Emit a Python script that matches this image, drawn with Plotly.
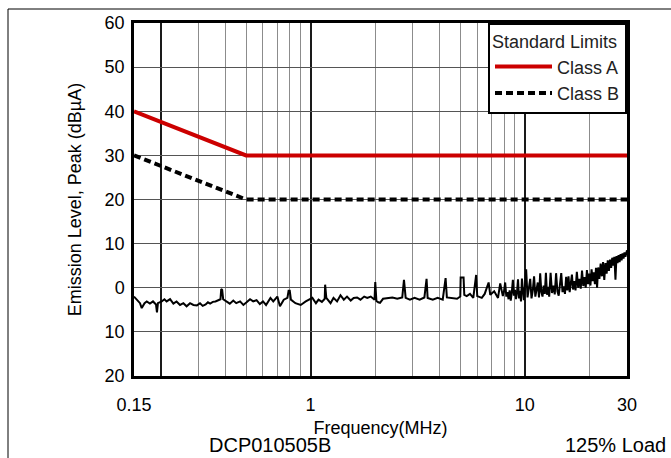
import plotly.graph_objects as go

# ---------------- data ----------------
limit_freq = [0.15, 0.5, 30]
class_a = [40, 30, 30]
class_b = [30, 20, 20]

noise_freq = [
    0.150, 0.154, 0.160, 0.163, 0.168, 0.172, 0.178, 0.184, 0.190, 0.192, 0.194,
    0.202, 0.208, 0.213, 0.221, 0.229, 0.237, 0.246, 0.255, 0.264, 0.274, 0.284,
    0.295, 0.305, 0.314, 0.324, 0.332, 0.340, 0.350, 0.360, 0.370, 0.380, 0.383,
    0.387, 0.391, 0.405, 0.420, 0.436, 0.450, 0.469, 0.486, 0.503, 0.522, 0.540,
    0.560, 0.580, 0.600, 0.620, 0.650, 0.670, 0.700, 0.720, 0.750, 0.780, 0.790,
    0.800, 0.810, 0.850, 0.900, 0.950, 0.980, 1.02, 1.06, 1.09, 1.13, 1.165,
    1.17, 1.185, 1.24, 1.28, 1.33, 1.38, 1.43, 1.48, 1.54, 1.59, 1.65, 1.71,
    1.78, 1.84, 1.91, 1.99, 2.005, 2.03, 2.07, 2.11, 2.18, 2.29, 2.41, 2.54,
    2.68, 2.73, 2.78, 2.91, 3.06, 3.23, 3.40, 3.48, 3.52, 3.72, 3.92, 4.14,
    4.27, 4.33, 4.58, 4.83, 5.00, 5.02, 5.18, 5.22, 5.36, 5.55, 5.75, 5.93,
    6.00, 6.30, 6.50, 6.78, 6.90, 7.20, 7.50, 7.68, 7.90,
    8.0, 8.1, 8.2, 8.3, 8.4, 8.5, 8.6, 8.7, 8.8, 8.9, 9.0, 9.1, 9.2, 9.3,
    9.4, 9.5, 9.6, 9.7, 9.8, 9.9, 10.0, 10.15, 10.3, 10.45, 10.6, 10.75,
    10.9, 11.05, 11.2, 11.35, 11.5, 11.65, 11.8, 11.95, 12.1, 12.25, 12.4,
    12.55, 12.7, 12.85, 13.0, 13.2, 13.4, 13.6, 13.8, 14.0, 14.2, 14.4,
    14.6, 14.8, 15.0, 15.2, 15.4, 15.6, 15.8, 16.0, 16.2, 16.4, 16.6, 16.8,
    17.0, 17.25, 17.5, 17.75, 18.0, 18.25, 18.5, 18.75, 19.0, 19.25, 19.5,
    19.75, 20.0, 20.25, 20.5, 20.75, 21.0, 21.25, 21.5, 21.75, 22.0, 22.3,
    22.6, 22.9, 23.2, 23.5, 23.8, 24.1, 24.4, 24.7, 25.0, 25.3, 25.6, 25.9,
    26.2, 26.5, 26.8, 27.1, 27.4, 27.7, 28.0, 28.3, 28.6, 28.9, 29.2, 29.5,
    29.8, 30.0,
]
noise_level = [
    -2.0, -2.7, -3.5, -4.6, -3.5, -3.1, -3.6, -3.1, -3.8, -5.6, -3.5,
    -3.1, -2.6, -3.1, -2.6, -3.6, -3.1, -3.9, -3.5, -4.2, -3.5, -3.9,
    -4.0, -3.5, -4.1, -3.8, -3.3, -3.6, -3.2, -3.1, -2.8, -2.6, -0.3,
    -0.5, -2.6, -3.1, -3.6, -2.9, -3.5, -3.1, -3.9, -3.3, -2.6, -3.1,
    -2.8, -3.7, -3.1, -3.9, -2.3, -3.1, -2.0, -4.2, -2.7, -2.3, -0.7,
    -0.7, -2.7, -3.5, -3.9, -3.1, -2.7, -2.3, -3.5, -2.7, -3.2, -2.5,
    0.7, -2.3, -3.5, -2.3, -3.1, -1.7, -2.7, -2.0, -2.9, -2.3, -2.2, -2.7,
    -2.0, -2.3, -2.0, -2.7, 1.3, -3.0, -3.3, -3.4, -2.5, -2.3, -2.2, -2.5,
    -2.2, 1.8, -2.3, -2.7, -2.3, -2.7, -2.2, 2.0, -2.3, -2.7, -2.3, -2.7,
    2.2, -2.2, -2.3, -2.5, -2.0, 2.3, 2.3, -1.6, -1.9, -1.4, -2.3, 2.9,
    -1.9, -2.3, -1.4, 1.2, -1.6, -0.8, -2.3, 1.0, -1.9,
    -0.8, 1.2, -2.0, -1.0, -2.6, -0.6, -2.9, -1.0, 1.8, -1.8, -0.5, -2.6, -1.0, 1.9,
    -2.4, -0.7, -3.1, 2.1, -1.6, -2.8, -0.3, 4.2, -2.2, -0.5, 2.0, -2.4,
    -0.6, 2.6, -2.0, -0.4, 1.2, -2.2, 3.3, -1.0, -2.0, 0.5, -1.4,
    3.4, -1.6, 0.2, -2.0, 3.4, -1.2, 0.5, -1.5, 3.3, -0.8, -1.8,
    1.5, 3.3, -1.0, 0.3, -1.4, 2.5, -0.6, 2.6, -1.0, 0.6, 3.0, -0.4,
    1.5, -0.6, 3.6, 0.0, 2.0, -0.2, 3.9, 0.4, 2.4, 0.0, 4.0,
    0.8, 3.2, 0.5, 4.2, 1.5, 3.5, 0.8, 4.5, 0.0, 4.6, 2.0,
    5.5, 2.6, 5.8, 1.8, 5.6, 3.2, 6.2, 3.8, 6.4, 4.5, 6.8, 5.0,
    7.0, 1.8, 7.2, 5.6, 7.4, 5.8, 7.6, 6.2, 7.8, 6.6, 8.0, 7.0,
    8.4, 8.5,
]

x_tick_vals = [0.15, 0.2, 1, 10, 30]
x_tick_text = ["0.15", "", "1", "10", "30"]
x_minor_vals = [0.3, 0.4, 0.5, 0.6, 0.7, 0.8, 0.9, 2, 3, 4, 5, 6, 7, 8, 9, 20]
y_tick_vals = [-20, -10, 0, 10, 20, 30, 40, 50, 60]
y_tick_text = ["20", "10", "0", "10", "20", "30", "40", "50", "60"]

FONT = "Liberation Sans, Arial, sans-serif"

fig = go.Figure()
fig.add_trace(go.Scatter(
    x=noise_freq, y=noise_level, mode="lines",
    line=dict(color="black", width=2), showlegend=False, hoverinfo="skip",
))
fig.add_trace(go.Scatter(
    x=limit_freq, y=class_a, mode="lines", name="Class A",
    line=dict(color="#cc0000", width=4),
))
fig.add_trace(go.Scatter(
    x=limit_freq, y=class_b, mode="lines", name="Class B",
    line=dict(color="black", width=4, dash="7px,4px"),
))

fig.update_layout(
    width=671, height=458,
    margin=dict(l=134, r=44, t=23, b=82),
    paper_bgcolor="white", plot_bgcolor="white",
    font=dict(family=FONT, size=18, color="black"),
    showlegend=True,
    legend=dict(
        x=1, y=1, xanchor="right", yanchor="top",
        bgcolor="white", bordercolor="black", borderwidth=2,
        font=dict(family=FONT, size=18, color="#222222"),
        title=dict(text="Standard Limits", font=dict(family=FONT, size=18, color="#222222")),
        itemwidth=57, tracegroupgap=0,
    ),
    xaxis=dict(
        type="log", range=[-0.82390874, 1.47712125],
        tickmode="array", tickvals=x_tick_vals, ticktext=x_tick_text,
        showgrid=True, gridcolor="#1a1a1a", gridwidth=1.5,
        minor=dict(tickmode="array", tickvals=x_minor_vals, showgrid=True,
                   gridcolor="#8c8c8c", gridwidth=1, ticks=""),
        showline=True, linecolor="black", linewidth=2.5, mirror=True,
        ticks="", ticklabelstandoff=11,
        tickfont=dict(family=FONT, size=18, color="black"),
        title=dict(text="Frequency(MHz)", font=dict(family=FONT, size=18), standoff=8),
        zeroline=False, automargin=False,
    ),
    yaxis=dict(
        range=[-20, 60],
        tickmode="array", tickvals=y_tick_vals, ticktext=y_tick_text,
        showgrid=True, gridcolor="#555555", gridwidth=1,
        showline=True, linecolor="black", linewidth=2.5, mirror=True,
        ticks="", ticklabelstandoff=3,
        tickfont=dict(family=FONT, size=18, color="black"),
        title=dict(text="Emission Level, Peak (dBµA)", font=dict(family=FONT, size=18), standoff=19),
        zeroline=False, automargin=False,
    ),
    annotations=[
        dict(text="DCP010505B", xref="paper", yref="paper", x=(270 - 134) / 493, y=(376 - 458) / 353,
             xanchor="center", yanchor="bottom", showarrow=False,
             font=dict(family=FONT, size=20, color="black")),
        dict(text="125% Load", xref="paper", yref="paper", x=(668 - 134) / 493, y=(376 - 458) / 353,
             xanchor="right", yanchor="bottom", showarrow=False,
             font=dict(family=FONT, size=20, color="black")),
    ],
    shapes=[
        dict(type="line", xref="paper", yref="paper",
             x0=(8 - 134) / 493, x1=(671 - 134) / 493,
             y0=(376 - 9) / 353, y1=(376 - 9) / 353,
             line=dict(color="black", width=1)),
        dict(type="line", xref="paper", yref="paper",
             x0=(8 - 134) / 493, x1=(8 - 134) / 493,
             y0=(376 - 9) / 353, y1=(376 - 470) / 353,
             line=dict(color="black", width=1)),
    ],
)

fig.write_html("out.html", config={"displayModeBar": False},
               post_script="document.body.style.margin='0';")
